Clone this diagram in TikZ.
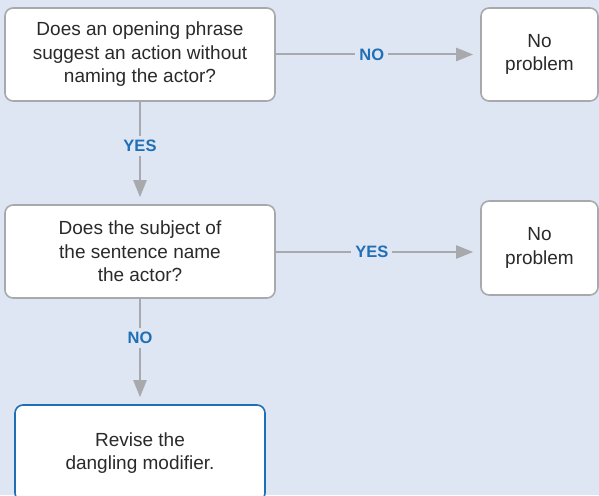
\documentclass[tikz,border=0pt]{standalone}
\usepackage{fontspec}
\setmainfont{Liberation Sans}
\usetikzlibrary{arrows.meta}
\definecolor{bg}{HTML}{DFE6F3}
\definecolor{gline}{HTML}{A7A9AC}
\definecolor{lblue}{HTML}{1F6FB7}
\definecolor{txt}{HTML}{2A2A2A}
\begin{document}
\begin{tikzpicture}[x=1pt,y=-1pt,
  qbox/.style={draw=gline, line width=1.6pt, fill=white, rounded corners=8pt, align=center, text=txt, font=\fontsize{19}{23.5}\selectfont, inner sep=0pt},
  flow/.style={draw=gline, line width=2pt, shorten >=7pt, -{Triangle[length=17pt,width=13pt]}},
  lbl/.style={fill=bg, text=lblue, font=\bfseries\fontsize{16.5}{18}\selectfont, inner sep=4pt}]
\useasboundingbox[fill=bg] (0,0) rectangle (599,495);
\node[qbox, minimum width=270pt, minimum height=93pt] (q1) at (140,54.5) {Does an opening phrase\\suggest an action without\\naming the actor?};
\node[qbox, minimum width=117pt, minimum height=93pt] (n1) at (539.5,54.5) {No\\problem};
\node[qbox, minimum width=270pt, minimum height=93pt] (q2) at (140,251.5) {Does the subject of\\the sentence name\\the actor?};
\node[qbox, minimum width=117pt, minimum height=94pt] (n2) at (539.5,248) {No\\problem};
\node[qbox, draw=lblue, minimum width=250pt, minimum height=96pt] (r) at (140,453) {Revise the\\dangling modifier.};
\draw[flow] (q1.east) -- node[lbl, pos=0.47]{NO} (n1.west |- q1.east);
\draw[flow] (q2.east |- 0,252) -- node[lbl, pos=0.47]{YES} (n2.west |- 0,252);
\draw[flow] (q1.south) -- node[lbl, pos=0.43]{YES} (q2.north);
\draw[flow] (q2.south) -- node[lbl, pos=0.37]{NO} (r.north);
\end{tikzpicture}
\end{document}
